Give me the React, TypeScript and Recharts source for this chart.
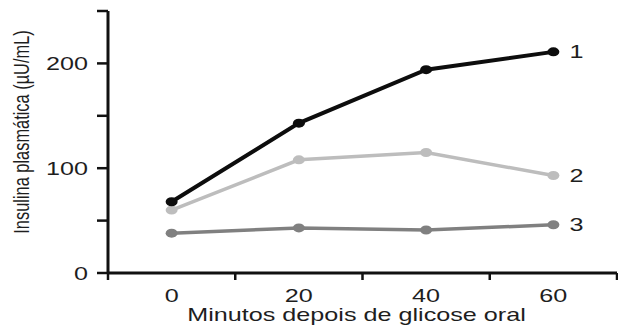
import React from 'react';
import { LineChart, Line, XAxis, YAxis } from 'recharts';

const minutes = [0, 20, 40, 60];
const series1 = [68, 143, 194, 211];
const series2 = [60, 108, 115, 93];
const series3 = [38, 43, 41, 46];
const seriesNames = ['1', '2', '3'];
const xTicks = [-10, 0, 10, 20, 30, 40, 50, 60, 70];
const xLabelTicks = [0, 20, 40, 60];
const yTicks = [0, 50, 100, 150, 200, 250];
const yLabelTicks = [0, 100, 200];
const xTitle = 'Minutos depois de glicose oral';
const yTitle = 'Insulina plasmática (µU/mL)';

const data = minutes.map((m, i) => ({ min: m, s1: series1[i], s2: series2[i], s3: series3[i] }));

const FONT = '"Liberation Sans", Arial, Helvetica, sans-serif';
const TEXT = '#1e1e1e';
const SX = 1.4;

const StretchText = ({ x, y, anchor = 'middle', size = 18, children }: any) => (
  <text
    transform={`translate(${x},${y}) scale(${SX},1)`}
    textAnchor={anchor}
    fontSize={size}
    fontFamily={FONT}
    fill={TEXT}
  >
    {children}
  </text>
);

const XTick = (props: any) => {
  const { x, y, payload } = props;
  const v = payload.value;
  if (xLabelTicks.includes(v)) {
    return <StretchText x={x} y={y + 29}>{String(v)}</StretchText>;
  }
  return <line x1={x} x2={x} y1={y} y2={y + 7} stroke="#111" strokeWidth={2.5} />;
};

const YTick = (props: any) => {
  const { x, y, payload } = props;
  const v = payload.value;
  return (
    <g>
      <line x1={x - 11} x2={x} y1={y} y2={y} stroke="#111" strokeWidth={2.5} />
      {yLabelTicks.includes(v) && (
        <StretchText x={x - 20} y={y + 7} anchor="end">{String(v)}</StretchText>
      )}
    </g>
  );
};

const makeDot = (color: string) => (p: any) => (
  <ellipse key={`d-${p.index}`} cx={p.cx} cy={p.cy} rx={6} ry={4.5} fill={color} />
);

const makeEndLabel = (name: string) => (p: any) => {
  if (p.index !== minutes.length - 1) return null;
  return (
    <StretchText key={`l-${name}`} x={p.x + 16} y={p.y + 6.5} anchor="start">{name}</StretchText>
  );
};

export default function App() {
  return (
    <div style={{ position: 'absolute', left: 0, top: 0, background: '#fff' }}>
      <LineChart
        width={618}
        height={327}
        data={data}
        margin={{ top: 11, right: 1, bottom: 0, left: 0 }}
      >
        <XAxis
          dataKey="min"
          type="number"
          domain={[-10, 70]}
          ticks={xTicks}
          interval={0}
          height={54}
          tickLine={false}
          tickSize={0}
          tickMargin={0}
          axisLine={{ stroke: '#111', strokeWidth: 3 }}
          tick={<XTick />}
          label={{
            content: (lp: any) => {
              const vb = lp.viewBox;
              return <StretchText x={vb.x + vb.width / 2 - 6} y={vb.y + 48}>{xTitle}</StretchText>;
            },
          }}
        />
        <YAxis
          type="number"
          domain={[0, 250]}
          ticks={yTicks}
          interval={0}
          width={108}
          tickLine={false}
          tickSize={0}
          tickMargin={0}
          axisLine={{ stroke: '#111', strokeWidth: 3 }}
          tick={<YTick />}
          label={{
            content: () => (
              <text
                transform={`translate(29,132) scale(${SX},1) rotate(-90)`}
                textAnchor="middle"
                fontSize={16.4}
                fontFamily={FONT}
                fill={TEXT}
              >
                {yTitle}
              </text>
            ),
          }}
        />
        <Line
          dataKey="s3"
          stroke="#808080"
          strokeWidth={3.5}
          dot={makeDot('#808080')}
          label={makeEndLabel(seriesNames[2])}
          isAnimationActive={false}
        />
        <Line
          dataKey="s2"
          stroke="#bdbdbd"
          strokeWidth={3.5}
          dot={makeDot('#bdbdbd')}
          label={makeEndLabel(seriesNames[1])}
          isAnimationActive={false}
        />
        <Line
          dataKey="s1"
          stroke="#0d0d0d"
          strokeWidth={4}
          dot={makeDot('#0d0d0d')}
          label={makeEndLabel(seriesNames[0])}
          isAnimationActive={false}
        />
      </LineChart>
    </div>
  );
}
